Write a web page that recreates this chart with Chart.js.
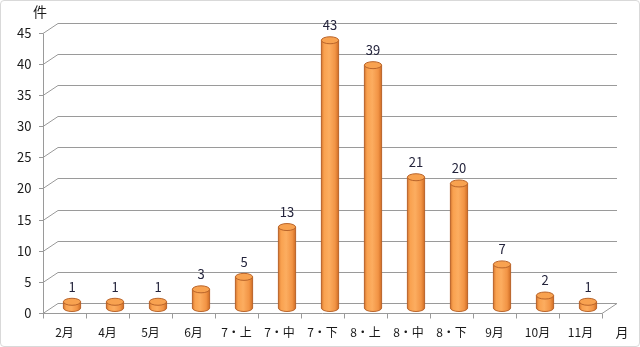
<!DOCTYPE html>
<html>
<head>
<meta charset="utf-8">
<script src="https://cdn.jsdelivr.net/npm/chart.js@4.4.1/dist/chart.umd.min.js"></script>
<style>
  html, body { margin: 0; padding: 0; background: #fff; }
  #wrap { width: 640px; height: 347px; position: relative; box-sizing: border-box; border: 1px solid #d9d9d9; border-radius: 4px; }
</style>
</head>
<body>
<div id="wrap"><canvas id="myChart" width="638" height="345"></canvas></div>
<script>
const months = ["2月", "4月", "5月", "6月", "7・上", "7・中", "7・下", "8・上", "8・中", "8・下", "9月", "10月", "11月"];
const counts = [1, 1, 1, 3, 5, 13, 43, 39, 21, 20, 7, 2, 1];
const yTicks = [0, 5, 10, 15, 20, 25, 30, 35, 40, 45];

const FONT = '"Noto Sans CJK JP", "Noto Sans", sans-serif';
const DX = 7.5; // half depth, x
const DY = 5;   // half depth, y

// walls, gridlines and axes in fake 3d
const wallPlugin = {
  id: "wall",
  beforeDatasetsDraw(chart) {
    const { ctx, chartArea, scales } = chart;
    const y = scales.y;
    const left = chartArea.left - DX;
    const right = chartArea.right + DX;
    ctx.save();
    ctx.strokeStyle = "#9a9a9a";
    ctx.lineWidth = 1;
    for (const v of yTicks) {
      const ym = Math.round(y.getPixelForValue(v)) + 0.5;
      ctx.beginPath();
      ctx.moveTo(left, ym + DY);
      ctx.lineTo(left + 2 * DX, ym - DY);
      ctx.lineTo(right, ym - DY);
      ctx.stroke();
      // tick mark on front axis
      ctx.beginPath();
      ctx.moveTo(left - 4, ym + DY);
      ctx.lineTo(left, ym + DY);
      ctx.stroke();
    }
    const y0 = Math.round(y.getPixelForValue(0)) + 0.5;
    const yTop = Math.round(y.getPixelForValue(45)) + 0.5;
    // floor front edge + right side
    ctx.beginPath();
    ctx.moveTo(left, y0 + DY);
    ctx.lineTo(chartArea.right - DX, y0 + DY);
    ctx.lineTo(right, y0 - DY);
    ctx.stroke();
    // y axis
    ctx.beginPath();
    ctx.moveTo(Math.round(left) + 0.5, yTop + DY);
    ctx.lineTo(Math.round(left) + 0.5, y0 + DY);
    ctx.stroke();
    // x tick marks
    const step = (chartArea.right - chartArea.left) / months.length;
    for (let i = 0; i <= months.length; i++) {
      const xb = Math.round(left + i * step) + 0.5;
      ctx.beginPath();
      ctx.moveTo(xb, y0 + DY);
      ctx.lineTo(xb, y0 + DY + 5);
      ctx.stroke();
    }
    ctx.restore();
  },
  afterDatasetsDraw(chart) {
    const { ctx } = chart;
    const meta = chart.getDatasetMeta(0);
    ctx.save();
    meta.data.forEach((bar, i) => {
      const w = bar.width;
      const x0 = bar.x - w / 2;
      const x1 = bar.x + w / 2;
      const ry = 3.5;
      const g = ctx.createLinearGradient(x0, 0, x1, 0);
      g.addColorStop(0, "#d47630");
      g.addColorStop(0.15, "#f9a14f");
      g.addColorStop(0.45, "#fcad60");
      g.addColorStop(0.8, "#f29445");
      g.addColorStop(1, "#cf6d25");
      // body with rounded bottom
      ctx.beginPath();
      ctx.moveTo(x0, bar.y);
      ctx.lineTo(x0, bar.base);
      ctx.ellipse(bar.x, bar.base, w / 2, ry, 0, Math.PI, 0, true);
      ctx.lineTo(x1, bar.y);
      ctx.closePath();
      ctx.fillStyle = g;
      ctx.fill();
      ctx.strokeStyle = "#b9642a";
      ctx.lineWidth = 1;
      ctx.stroke();
      // top cap
      ctx.beginPath();
      ctx.ellipse(bar.x, bar.y, w / 2, ry, 0, 0, Math.PI * 2);
      ctx.fillStyle = "#f8a250";
      ctx.fill();
      ctx.stroke();
      // value label
      ctx.fillStyle = "#24243c";
      ctx.font = "13px " + FONT;
      ctx.textAlign = "center";
      ctx.textBaseline = "middle";
      ctx.fillText(counts[i], bar.x, bar.y - 15);
    });
    // unit labels
    ctx.font = "14px " + FONT;
    ctx.fillStyle = "#1a1a1a";
    ctx.fillText("件", 39, 11);
    ctx.font = "13px " + FONT;
    ctx.fillText("月", 621, 331);
    ctx.restore();
  },
};

const ctx = document.getElementById("myChart");
const myChart = new Chart(ctx, {
  type: "bar",
  data: {
    labels: months,
    datasets: [
      {
        data: counts,
        backgroundColor: "rgba(0,0,0,0)",
        barPercentage: 0.4,
        categoryPercentage: 1,
      },
    ],
  },
  options: {
    responsive: false,
    animation: false,
    layout: { padding: { top: 25, right: 29.5, left: 0, bottom: 0 } },
    plugins: {
      legend: { display: false },
      tooltip: { enabled: false },
    },
    scales: {
      x: {
        afterFit: (scale) => { scale.height = 38; },
        grid: { display: false, drawTicks: false },
        border: { display: false },
        ticks: {
          color: "#1a1a1a",
          font: { size: 12, family: FONT },
          padding: 17,
          labelOffset: -DX,
          maxRotation: 0,
        },
      },
      y: {
        min: 0,
        max: 45,
        afterFit: (scale) => { scale.width = 49.5; },
        grid: { display: false, drawTicks: false },
        border: { display: false },
        ticks: {
          stepSize: 5,
          color: "#1a1a1a",
          font: { size: 13, family: FONT },
          padding: 19,
          labelOffset: DY,
        },
      },
    },
  },
  plugins: [wallPlugin],
});
</script>
</body>
</html>
